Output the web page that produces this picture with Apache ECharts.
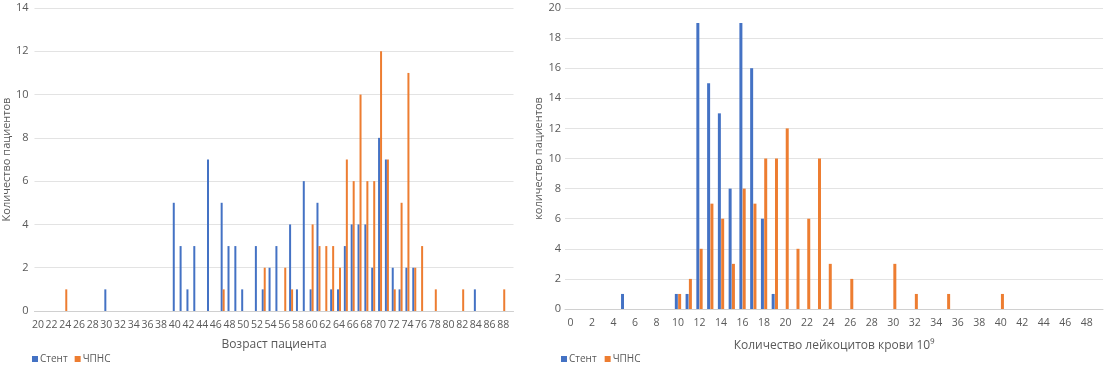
<!DOCTYPE html>
<html>
<head>
<meta charset="utf-8">
<script src="https://cdn.jsdelivr.net/npm/echarts@6/dist/echarts.min.js"></script>
<style>
html, body { margin: 0; padding: 0; background: #fff; }
#main { width: 1108px; height: 389px; }
</style>
</head>
<body>
<div id="main"></div>
<script>
// возраст 20..89
var ageCats = ['20','21','22','23','24','25','26','27','28','29','30','31','32','33','34','35','36','37','38','39',
    '40','41','42','43','44','45','46','47','48','49','50','51','52','53','54','55','56','57','58','59',
    '60','61','62','63','64','65','66','67','68','69','70','71','72','73','74','75','76','77','78','79',
    '80','81','82','83','84','85','86','87','88','89'];
// [возраст, кол-во]
var ageStent = [['30',1],['40',5],['41',3],['42',1],['43',3],['45',7],['47',5],['48',3],['49',3],['50',1],
    ['52',3],['53',1],['54',2],['55',3],['57',4],['58',1],['59',6],['60',1],['61',5],['63',1],['64',1],
    ['65',3],['66',4],['67',4],['68',4],['69',2],['70',8],['71',7],['72',2],['73',1],['74',2],['75',2],['84',1]];
var ageChpns = [['24',1],['47',1],['53',2],['56',2],['57',1],['60',4],['61',3],['62',3],['63',3],['64',2],
    ['65',7],['66',6],['67',10],['68',6],['69',6],['70',12],['71',7],['72',1],['73',5],['74',11],['75',2],
    ['76',3],['78',1],['82',1],['88',1]];

// лейкоциты 0..49
var leuCats = ['0','1','2','3','4','5','6','7','8','9','10','11','12','13','14','15','16','17','18','19',
    '20','21','22','23','24','25','26','27','28','29','30','31','32','33','34','35','36','37','38','39',
    '40','41','42','43','44','45','46','47','48','49'];
var leuStent = [['5',1],['10',1],['11',1],['12',19],['13',15],['14',13],['15',8],['16',19],['17',16],['18',6],['19',1]];
var leuChpns = [['10',1],['11',2],['12',4],['13',7],['14',6],['15',3],['16',8],['17',7],['18',10],['19',10],
    ['20',12],['21',4],['22',6],['23',10],['24',3],['26',2],['30',3],['32',1],['35',1],['40',1]];

var txt = '#595959';
var fnt = 'Open Sans';

var chart = echarts.init(document.getElementById('main'));

function xAx(idx, cats, name, gap) {
    return {
        type: 'category',
        gridIndex: idx,
        data: cats,
        name: name,
        nameLocation: 'middle',
        nameGap: gap,
        nameTextStyle: { color: txt, fontSize: 12, fontFamily: fnt },
        axisTick: { show: false },
        axisLine: { lineStyle: { color: '#d0d0d0' } },
        axisLabel: { interval: 1, color: txt, fontSize: 10.5, fontFamily: fnt, margin: 9 }
    };
}
function yAx(idx, max, name, gap, margin) {
    return {
        type: 'value',
        gridIndex: idx,
        min: 0,
        max: max,
        interval: 2,
        name: name,
        nameLocation: 'middle',
        nameGap: gap,
        nameTextStyle: { color: txt, fontSize: 11, fontFamily: fnt },
        axisLine: { show: false },
        axisTick: { show: false },
        axisLabel: { color: txt, fontSize: 11, fontFamily: fnt, margin: margin },
        splitLine: { lineStyle: { color: '#e3e3e3' } }
    };
}

var option = {
    animation: false,
    textStyle: { fontFamily: fnt },
    color: ['#4472C4', '#ED7D31'],
    grid: [
        { left: 30.5, right: 594.5, top: 8, bottom: 78 },
        { left: 565, right: 5, top: 8, bottom: 80 }
    ],
    legend: [
        {
            left: 27, top: 349, itemWidth: 6, itemHeight: 6, itemGap: 7, icon: 'rect',
            data: ['Стент', 'ЧПНС'],
            textStyle: { color: txt, fontSize: 10, padding: [0, 0, 0, -3] }
        },
        {
            left: 556, top: 349, itemWidth: 6, itemHeight: 6, itemGap: 8, icon: 'rect',
            data: ['Стент', 'ЧПНС'],
            textStyle: { color: txt, fontSize: 10, padding: [0, 0, 0, -3] }
        }
    ],
    xAxis: [
        xAx(0, ageCats, 'Возраст пациента', 28),
        xAx(1, leuCats, 'Количество лейкоцитов крови 10⁹', 31)
    ],
    yAxis: [
        yAx(0, 14, 'Количество пациентов', 16, 6),
        yAx(1, 20, 'количество пациентов', 20, 4)
    ],
    series: [
        { name: 'Стент', type: 'bar', xAxisIndex: 0, yAxisIndex: 0, barWidth: 2, barGap: '0%', data: ageStent },
        { name: 'ЧПНС', type: 'bar', xAxisIndex: 0, yAxisIndex: 0, barWidth: 2, barGap: '0%', data: ageChpns },
        { name: 'Стент', type: 'bar', xAxisIndex: 1, yAxisIndex: 1, barWidth: 3, barGap: '10%', data: leuStent },
        { name: 'ЧПНС', type: 'bar', xAxisIndex: 1, yAxisIndex: 1, barWidth: 3, barGap: '10%', data: leuChpns }
    ]
};
chart.setOption(option);
</script>
</body>
</html>
